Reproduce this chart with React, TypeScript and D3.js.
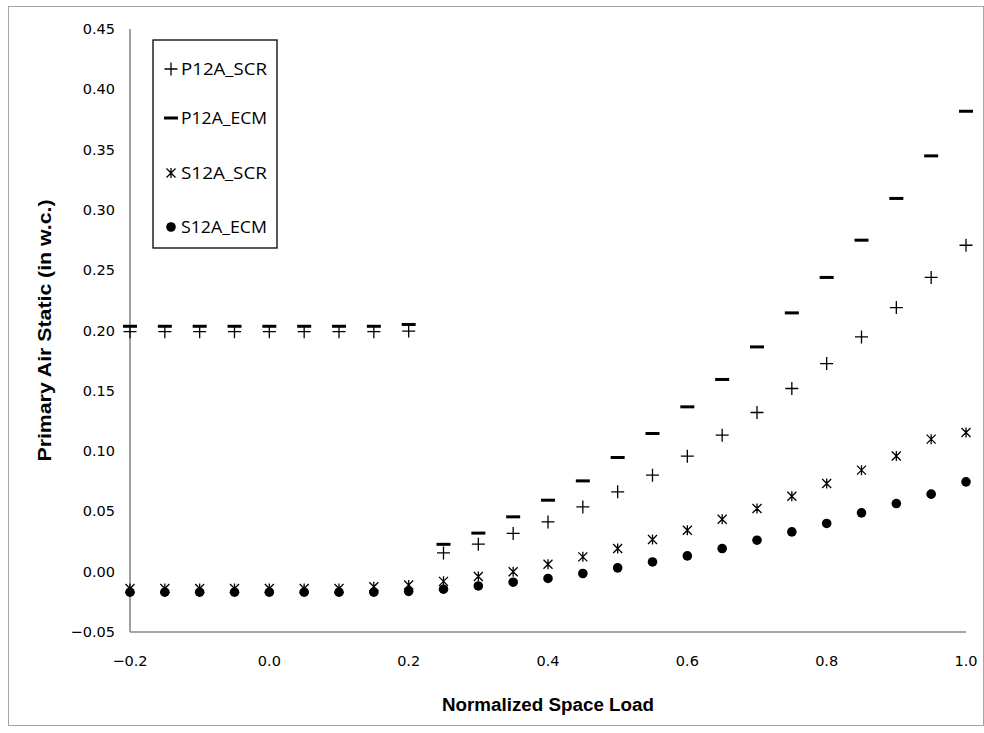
import React from "react";
import * as d3 from "d3";

const loads = [-0.2, -0.15, -0.1, -0.05, 0.0, 0.05, 0.1, 0.15, 0.2, 0.25, 0.3, 0.35, 0.4, 0.45, 0.5, 0.55, 0.6, 0.65, 0.7, 0.75, 0.8, 0.85, 0.9, 0.95, 1.0];

const p12aScr = [0.199, 0.199, 0.199, 0.199, 0.199, 0.199, 0.199, 0.199, 0.1995, 0.0156, 0.0228, 0.0317, 0.0413, 0.0537, 0.0662, 0.080, 0.0958, 0.1132, 0.132, 0.1519, 0.1726, 0.1947, 0.219, 0.244, 0.2707];
const p12aEcm = [0.2035, 0.2035, 0.2035, 0.2035, 0.2035, 0.2035, 0.2035, 0.2035, 0.205, 0.0227, 0.032, 0.0455, 0.0593, 0.0753, 0.0947, 0.1146, 0.1367, 0.1594, 0.1864, 0.2146, 0.244, 0.2749, 0.3095, 0.3448, 0.3818];
const s12aScr = [-0.014, -0.014, -0.014, -0.014, -0.014, -0.014, -0.014, -0.0125, -0.011, -0.008, -0.004, 0.0, 0.0062, 0.0123, 0.0192, 0.0267, 0.0344, 0.0435, 0.0524, 0.0626, 0.0731, 0.0842, 0.096, 0.1099, 0.1154];
const s12aEcm = [-0.017, -0.017, -0.017, -0.017, -0.017, -0.017, -0.017, -0.017, -0.0163, -0.0145, -0.0118, -0.0087, -0.0056, -0.0015, 0.0032, 0.0081, 0.0131, 0.0192, 0.0261, 0.033, 0.040, 0.0488, 0.0565, 0.0643, 0.0745];

const seriesNames = ["P12A_SCR", "P12A_ECM", "S12A_SCR", "S12A_ECM"];
const seriesKinds = ["plus", "dash", "star", "circle"];
const seriesValues = [p12aScr, p12aEcm, s12aScr, s12aEcm];

const yTicks = [-0.05, 0.0, 0.05, 0.1, 0.15, 0.2, 0.25, 0.3, 0.35, 0.4, 0.45];
const xTicks = [-0.2, 0.0, 0.2, 0.4, 0.6, 0.8, 1.0];

const xTitle = "Normalized Space Load";
const yTitle = "Primary Air Static (in w.c.)";

function Marker({ kind, cx, cy }: { kind: string; cx: number; cy: number }) {
  if (kind === "plus") {
    return (
      <path
        d={`M${cx - 6.5},${cy}H${cx + 6.5}M${cx},${cy - 6.5}V${cy + 6.5}`}
        stroke="#000"
        strokeWidth={1.3}
        fill="none"
      />
    );
  }
  if (kind === "dash") {
    return <rect x={cx - 7} y={cy - 1.5} width={14} height={3} fill="#000" />;
  }
  if (kind === "star") {
    return (
      <path
        d={`M${cx - 4.5},${cy - 4.5}L${cx + 4.5},${cy + 4.5}M${cx - 4.5},${cy + 4.5}L${cx + 4.5},${cy - 4.5}M${cx},${cy - 5}V${cy + 5}`}
        stroke="#000"
        strokeWidth={1.3}
        fill="none"
      />
    );
  }
  return <circle cx={cx} cy={cy} r={4.8} fill="#000" />;
}

export default function App() {
  const x = d3.scaleLinear().domain([-0.2, 1.0]).range([130, 966]);
  const y = d3.scaleLinear().domain([-0.05, 0.45]).range([632, 29]);
  const fy = d3.format(".2f");
  const fx = d3.format(".1f");
  const axisColor = "#878787";
  const tickFont = "'DejaVu Sans', Verdana, sans-serif";
  const legendY = [69, 118, 173, 227];

  return (
    <svg
      width={984}
      height={733}
      style={{ position: "absolute", left: 0, top: 0, background: "#fff" }}
    >
      <rect x={0} y={0} width={984} height={733} fill="#fff" />
      <rect x={8.5} y={6.5} width={975} height={719} fill="none" stroke="#a6a6a6" strokeWidth={1} />

      {/* axes */}
      <line x1={x(-0.2)} x2={x(-0.2)} y1={y(0.45)} y2={y(-0.05)} stroke={axisColor} strokeWidth={1.6} />
      <line x1={x(-0.2)} x2={x(1.0)} y1={y(-0.05)} y2={y(-0.05)} stroke={axisColor} strokeWidth={1.6} />

      {yTicks.map((t) => (
        <text
          key={"y" + t}
          x={115}
          y={y(t)}
          textAnchor="end"
          dominantBaseline="central"
          fontFamily={tickFont}
          fontSize={14.5}
          fill="#000"
        >
          {fy(t)}
        </text>
      ))}
      {xTicks.map((t) => (
        <text
          key={"x" + t}
          x={x(t)}
          y={661}
          textAnchor="middle"
          dominantBaseline="central"
          fontFamily={tickFont}
          fontSize={14.5}
          fill="#000"
        >
          {fx(t)}
        </text>
      ))}

      <text
        x={(x(-0.2) + x(1.0)) / 2}
        y={705}
        textAnchor="middle"
        dominantBaseline="central"
        fontFamily="'Liberation Sans', Arial, sans-serif"
        fontWeight="bold"
        fontSize={18}
        textLength={212}
        lengthAdjust="spacingAndGlyphs"
      >
        {xTitle}
      </text>
      <text
        transform={`translate(45,${(y(0.45) + y(-0.05)) / 2}) rotate(-90)`}
        textAnchor="middle"
        dominantBaseline="central"
        fontFamily="'Liberation Sans', Arial, sans-serif"
        fontWeight="bold"
        fontSize={18}
        textLength={262}
        lengthAdjust="spacingAndGlyphs"
      >
        {yTitle}
      </text>

      {/* data */}
      {seriesValues.map((vals, si) => (
        <g key={seriesNames[si]}>
          {vals.map((v, i) => (
            <Marker key={i} kind={seriesKinds[si]} cx={x(loads[i])} cy={y(v)} />
          ))}
        </g>
      ))}

      {/* legend */}
      <rect x={153} y={40} width={124} height={208} fill="#fff" stroke="#000" strokeWidth={1.3} />
      {seriesNames.map((n, i) => (
        <g key={"lg" + n}>
          <Marker kind={seriesKinds[i]} cx={171} cy={legendY[i]} />
          <text
            x={181}
            y={legendY[i]}
            dominantBaseline="central"
            fontFamily="'Open Sans', 'Liberation Sans', Arial, sans-serif"
            fontSize={16}
            textLength={86}
            lengthAdjust="spacingAndGlyphs"
            fill="#000"
          >
            {n}
          </text>
        </g>
      ))}
    </svg>
  );
}
